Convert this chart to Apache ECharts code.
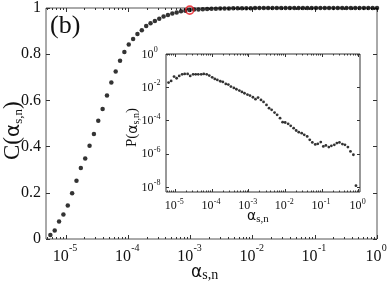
<!DOCTYPE html>
<html><head><meta charset="utf-8">
<script src="https://cdn.jsdelivr.net/npm/echarts@6/dist/echarts.min.js"></script>
<style>html,body{margin:0;padding:0;background:#fff}#c{width:388px;height:284px}</style>
</head><body><div id="c"></div>
<script>
// ---- data (log10 of alpha on x) ----
const mainLogAlpha = [-5.25,-5.18,-5.11,-5.04,-4.97,-4.90,-4.83,-4.76,-4.69,-4.62,
 -4.55,-4.48,-4.41,-4.34,-4.27,-4.20,-4.13,-4.06,-3.99,-3.92,
 -3.85,-3.78,-3.71,-3.64,-3.57,-3.50,-3.43,-3.36,-3.29,-3.22,
 -3.15,-3.08,-3.01,-2.94,-2.87,-2.80,-2.73,-2.66,-2.59,-2.52,
 -2.45,-2.38,-2.31,-2.24,-2.17,-2.10,-2.03,-1.96,-1.89,-1.82,
 -1.75,-1.68,-1.61,-1.54,-1.47,-1.40,-1.33,-1.26,-1.19,-1.12,
 -1.05,-0.98,-0.91,-0.84,-0.77,-0.70,-0.63,-0.56,-0.49,-0.42,
 -0.35,-0.28,-0.21,-0.14,-0.07,0.00];
const mainC = [0.017,0.037,0.076,0.106,0.145,0.198,0.252,0.307,0.349,0.404,
 0.455,0.512,0.563,0.621,0.677,0.725,0.772,0.810,0.842,0.866,
 0.887,0.904,0.922,0.934,0.944,0.954,0.963,0.970,0.976,0.981,
 0.986,0.988,0.991,0.993,0.994,0.995,0.996,0.997,0.997,0.998,
 0.998,0.998,0.999,0.999,0.999,0.999,0.999,1,1,1,
 1,1,1,1,1,1,1,1,1,1,
 1,1,1,1,1,1,1,1,1,1,
 1,1,1,1,1,1];
const highlightLogAlpha = [-3.01];
const highlightC = [0.991];

const insetLogAlpha = [-5.18,-5.11,-5.03,-4.96,-4.89,-4.81,-4.74,-4.66,-4.59,-4.51,
 -4.44,-4.37,-4.29,-4.22,-4.14,-4.07,-3.99,-3.92,-3.85,-3.77,
 -3.70,-3.62,-3.55,-3.48,-3.40,-3.33,-3.25,-3.18,-3.11,-3.03,
 -2.96,-2.88,-2.81,-2.74,-2.66,-2.59,-2.51,-2.44,-2.37,-2.29,
 -2.22,-2.14,-2.07,-2.00,-1.92,-1.85,-1.77,-1.70,-1.63,-1.55,
 -1.48,-1.40,-1.33,-1.26,-1.18,-1.11,-1.03,-0.96,-0.89,-0.81,
 -0.74,-0.66,-0.59,-0.52,-0.44,-0.37,-0.29,-0.22,-0.14,-0.07];
const insetLogP = [-1.72,-1.62,-1.36,-1.46,-1.32,-1.22,-1.20,-1.20,-1.32,-1.22,
 -1.22,-1.22,-1.22,-1.20,-1.22,-1.30,-1.40,-1.50,-1.56,-1.64,
 -1.68,-1.80,-1.84,-1.96,-2.04,-2.12,-2.20,-2.28,-2.36,-2.44,
 -2.50,-2.60,-2.72,-2.62,-2.76,-2.88,-3.06,-3.26,-3.36,-3.52,
 -3.66,-3.86,-4.10,-4.12,-4.20,-4.32,-4.46,-4.60,-4.70,-4.76,
 -4.86,-4.96,-5.16,-5.32,-5.44,-5.40,-5.30,-5.56,-5.50,-5.60,
 -5.52,-5.46,-5.36,-5.32,-5.42,-5.46,-5.60,-5.86,-6.06,-7.92];

const mainXTicks = [-5,-4,-3,-2,-1,0];
const mainYTicks = [0,0.2,0.4,0.6,0.8,1];
const insetXTicks = [-5,-4,-3,-2,-1,0];
const insetYTicks = [-8,-6,-4,-2,0];

// ---- helpers ----
const MAIN_X = [-5.32, 0];
const INSET_X = [-5.25, 0.04];
const INSET_Y = [-8.3, 0];
function minors(lo, hi){
  const out=[];
  for(let d=-7; d<=1; d++) for(let k=2;k<=9;k++){ const v=d+Math.log10(k); if(v>lo && v<hi) out.push(v); }
  return out;
}
const SERIF = '"Liberation Serif", "DejaVu Serif", serif';
const SANS = '"DejaVu Sans", sans-serif';
const INK = '#111';

function xAx(grid, pos, range, ticks, len){
  return {type:'value', gridIndex:grid, position:pos, min:range[0], max:range[1],
    axisLine:{show:false,onZero:false}, splitLine:{show:false},
    axisTick:{show:true,inside:true,length:len,customValues:ticks,lineStyle:{color:'#333',width:1}},
    axisLabel:{show:false}};
}
function yAx(grid, pos, range, ticks, len, labelCfg){
  return {type:'value', gridIndex:grid, position:pos, min:range[0], max:range[1],
    axisLine:{show:false,onZero:false}, splitLine:{show:false},
    axisTick:{show:true,inside:true,length:len,customValues:ticks,lineStyle:{color:'#333',width:1}},
    axisLabel: labelCfg || {show:false}};
}

const mainMinor = minors(MAIN_X[0], MAIN_X[1]);
const insetMinor = minors(INSET_X[0], INSET_X[1]);

const option = {
  animation:false,
  backgroundColor:'#fff',
  grid:[
    {left:46, top:7, width:331, height:232, show:true, borderColor:'#555', borderWidth:1, backgroundColor:'transparent'},
    {left:166, top:54, width:194, height:138, show:true, borderColor:'#333', borderWidth:1, backgroundColor:'#fff'}
  ],
  xAxis:[
    xAx(0,'bottom',MAIN_X,mainXTicks,4),
    xAx(0,'top',MAIN_X,mainXTicks,4),
    xAx(0,'bottom',MAIN_X,mainMinor,2),
    xAx(0,'top',MAIN_X,mainMinor,2),
    xAx(1,'bottom',INSET_X,insetXTicks,3),
    xAx(1,'top',INSET_X,insetXTicks,3),
    xAx(1,'bottom',INSET_X,insetMinor,1.5),
    xAx(1,'top',INSET_X,insetMinor,1.5)
  ],
  yAxis:[
    yAx(0,'left',[0,1],mainYTicks,4,{show:true,customValues:mainYTicks,margin:5,fontFamily:SERIF,fontSize:16,color:INK,
       formatter:v=> (Math.abs(v)<1e-9?'0':(Math.abs(v-1)<1e-9?'1':v.toFixed(1)))}),
    yAx(0,'right',[0,1],mainYTicks,4),
    yAx(1,'left',INSET_Y,insetYTicks,3),
    yAx(1,'right',INSET_Y,insetYTicks,3)
  ],
  series:[
    {type:'scatter',xAxisIndex:0,yAxisIndex:0,symbol:'circle',symbolSize:4.5,
     itemStyle:{color:'#000'},data:mainLogAlpha.map((x,i)=>[x,mainC[i]]),z:3},
    {type:'scatter',xAxisIndex:0,yAxisIndex:0,symbol:'circle',symbolSize:8,
     itemStyle:{color:'rgba(0,0,0,0)',borderColor:'#e8141b',borderWidth:1.6},
     data:highlightLogAlpha.map((x,i)=>[x,highlightC[i]]),z:4},
    {type:'scatter',xAxisIndex:4,yAxisIndex:2,symbol:'circle',symbolSize:2.8,
     itemStyle:{color:'#000'},data:insetLogAlpha.map((x,i)=>[x,insetLogP[i]]),z:5}
  ]
};
const chart = echarts.init(document.getElementById('c'), null, {renderer:'canvas'});
chart.setOption(option);

// ---- text: tick labels with superscripts, axis titles ----
const mctx = document.createElement('canvas').getContext('2d');
function tw(t, f){ mctx.font = f; return mctx.measureText(t).width; }
function txt(x, y, text, font, align, va){
  return {type:'text', x:x, y:y, z:20, style:{text:text, font:font, fill:INK, align:align||'left', verticalAlign:va||'middle'}};
}
const supStr = v => (Math.abs(v)<1e-9 ? '0' : String(Math.round(v)));
const g = [];

// main x tick labels
const FM = '16px ' + SERIF, FMS = '10px ' + SERIF;
mainXTicks.forEach(v => {
  const px = chart.convertToPixel({xAxisIndex:0}, v);
  const s = supStr(v), w1 = tw('10', FM), w2 = tw(s, FMS);
  const left = px - 1 - (w1 + w2) / 2;
  g.push(txt(left, 257, '10', FM));
  g.push(txt(left + w1 + 0.3, 248.5, s, FMS));
});
// inset x tick labels
const FI = '12px ' + SERIF, FIS = '8px ' + SERIF;
insetXTicks.forEach(v => {
  const px = chart.convertToPixel({xAxisIndex:4}, v);
  const s = supStr(v), w1 = tw('10', FI), w2 = tw(s, FIS);
  const left = px - 1 - (w1 + w2) / 2;
  g.push(txt(left, 206, '10', FI));
  g.push(txt(left + w1 + 0.3, 202, s, FIS));
});
// inset y tick labels
insetYTicks.forEach(v => {
  const py = chart.convertToPixel({yAxisIndex:2}, v);
  g.push(txt(153.5, py + 0.5, '10', FI, 'right'));
  g.push(txt(153.8, py - 4, supStr(v), FIS));
});

// panel label
g.push(txt(50, 26, '(b)', '26px ' + SERIF));

// rotated title builder: parts [text, font, dy]
function rotTitle(x, y, parts){
  let cx = 0; const ch = [];
  parts.forEach(p => {
    ch.push({type:'text', x:cx, y:p[2], style:{text:p[0], font:p[1], fill:INK, align:'left', verticalAlign:'bottom'}});
    cx += tw(p[0], p[1]);
  });
  return {type:'group', x:x, y:y, rotation:Math.PI/2, z:20, children:ch};
}
function flatTitle(x, y, parts){
  let cx = x; const out = [];
  parts.forEach(p => {
    out.push({type:'text', x:cx, y:y + p[2], z:20, style:{text:p[0], font:p[1], fill:INK, align:'left', verticalAlign:'bottom'}});
    cx += tw(p[0], p[1]);
  });
  return out;
}
// main y title  C(α_{s,n})
g.push(rotTitle(19, 160, [['C(', '23px '+SERIF, 5], ['α', '20px '+SANS, 5], ['s,n', '13px '+SERIF, 6], [')', '23px '+SERIF, 5]]));
// inset y title  P(α_{s,n})
g.push(rotTitle(137, 147, [['P(', '15px '+SERIF, 3], ['α', '14px '+SANS, 3], ['s,n', '10px '+SERIF, 4], [')', '15px '+SERIF, 3]]));
// main x title
flatTitle(191, 277, [['α', '17px '+SANS, 4], ['s,n', '14px '+SERIF, 5]]).forEach(e => g.push(e));
// inset x title
flatTitle(247, 220, [['α', '14px '+SANS, 3], ['s,n', '11px '+SERIF, 5]]).forEach(e => g.push(e));

chart.setOption({graphic: g});
</script></body></html>
